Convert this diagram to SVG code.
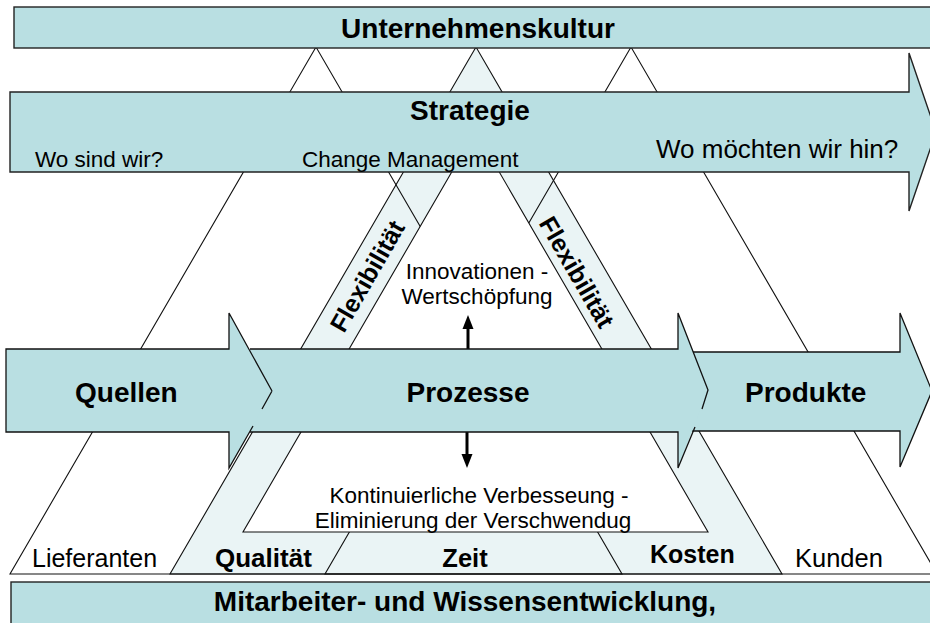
<svg xmlns="http://www.w3.org/2000/svg" width="930" height="623" viewBox="0 0 930 623">
<defs>
<style>
.bar{fill:#B9DFE2;stroke:#222;stroke-width:1.4}
.barfill{fill:#B9DFE2;stroke:none}
.ol{fill:none;stroke:#111;stroke-width:1.3;stroke-linejoin:miter}
.tri{fill:none;stroke:#111;stroke-width:1.1}
.band{fill:#EAF4F5;stroke:#111;stroke-width:1.1}
.inner{fill:#FFFFFF;stroke:#111;stroke-width:1.1}
text{font-family:"Liberation Sans",Arial,sans-serif;fill:#000}
.b{font-weight:bold}
.big{font-size:28px;font-weight:bold}
.reg{font-size:22.5px}
.mid{text-anchor:middle}
</style>
</defs>
<rect width="930" height="623" fill="#FFFFFF"/>

<g id="triangles">
  <polygon id="center-outer" class="band" points="476,47 170,574 782,574"/>
  <polygon id="left-triangle" class="tri" points="316,47 10,574 622,574"/>
  <polygon id="right-triangle" class="tri" points="631,47 325,574 937,574"/>
  <polygon id="center-inner" class="inner" points="475.5,131 243,532 708,532"/>
</g>

<g id="connectors">
  <line x1="468" y1="349" x2="468" y2="327" stroke="#000" stroke-width="3"/>
  <polygon points="468,315 462.5,329 473.5,329" fill="#000"/>
  <line x1="467" y1="432" x2="467" y2="456" stroke="#000" stroke-width="3"/>
  <polygon points="467,468 461.5,454 472.5,454" fill="#000"/>
</g>

<g id="unternehmenskultur">
  <rect class="bar" x="14" y="7" width="930" height="41"/>
  <text class="big mid" x="478" y="38">Unternehmenskultur</text>
</g>

<g id="strategie">
  <path class="bar" d="M10,92 H909 V53 L936,132 L909,211 V172 H10 Z"/>
  <text class="big mid" x="470" y="120">Strategie</text>
  <text class="reg" x="35" y="167">Wo sind wir?</text>
  <text class="reg" x="302" y="167">Change Management</text>
  <text x="656" y="158" font-size="26">Wo möchten wir hin?</text>
</g>

<g id="produkte">
  <path class="barfill" d="M690,352 H900 V313 L932,391 L900,467 V431 H690 Z"/>
  <path class="ol" d="M690,352 H900 V313 L932,391 L900,467 V431 H690"/>
  <text class="big" x="745" y="402">Produkte</text>
</g>

<g id="prozesse">
  <path class="barfill" d="M250,349 H678 V313 L708,390 L678,468 V432 H250 Z"/>
  <path class="ol" d="M250,349 H678 V313 L708,390 L702,409 M695,427 L678,468 V432 H250"/>
  <text class="big mid" x="468" y="402">Prozesse</text>
</g>

<g id="quellen">
  <path class="barfill" d="M6,349 H229 V313 L272,391 L229,468 V432 H6 Z"/>
  <path class="ol" d="M272,391 L262,409 M253,426 L229,468 V432 H6 V349 H229 V313 L272,391"/>
  <text class="big" x="75" y="402">Quellen</text>
</g>

<g id="flexibilitaet-links">
  <text class="b mid" font-size="25" transform="translate(367,276) rotate(-60)" y="9">Flexibilität</text>
</g>
<g id="flexibilitaet-rechts">
  <text class="b mid" font-size="25" transform="translate(577,272) rotate(60)" y="9">Flexibilität</text>
</g>

<g id="innovationen">
  <text class="reg mid" x="477" y="279">Innovationen -</text>
  <text class="reg mid" x="477" y="304">Wertschöpfung</text>
</g>

<g id="verbesserung">
  <text class="reg mid" x="479" y="503">Kontinuierliche Verbesseung -</text>
  <text class="reg mid" x="473" y="528">Eliminierung der Verschwendug</text>
</g>

<g id="bottom-labels">
  <text x="32" y="567" font-size="25">Lieferanten</text>
  <text class="b" x="215" y="567" font-size="26">Qualität</text>
  <text class="b mid" x="465" y="567" font-size="25.5">Zeit</text>
  <text class="b" x="650" y="563" font-size="25">Kosten</text>
  <text x="795" y="567" font-size="25.5">Kunden</text>
</g>

<g id="mitarbeiter">
  <rect class="bar" x="11" y="582" width="930" height="50"/>
  <text class="big mid" x="465" y="611">Mitarbeiter- und Wissensentwicklung,</text>
</g>
</svg>
